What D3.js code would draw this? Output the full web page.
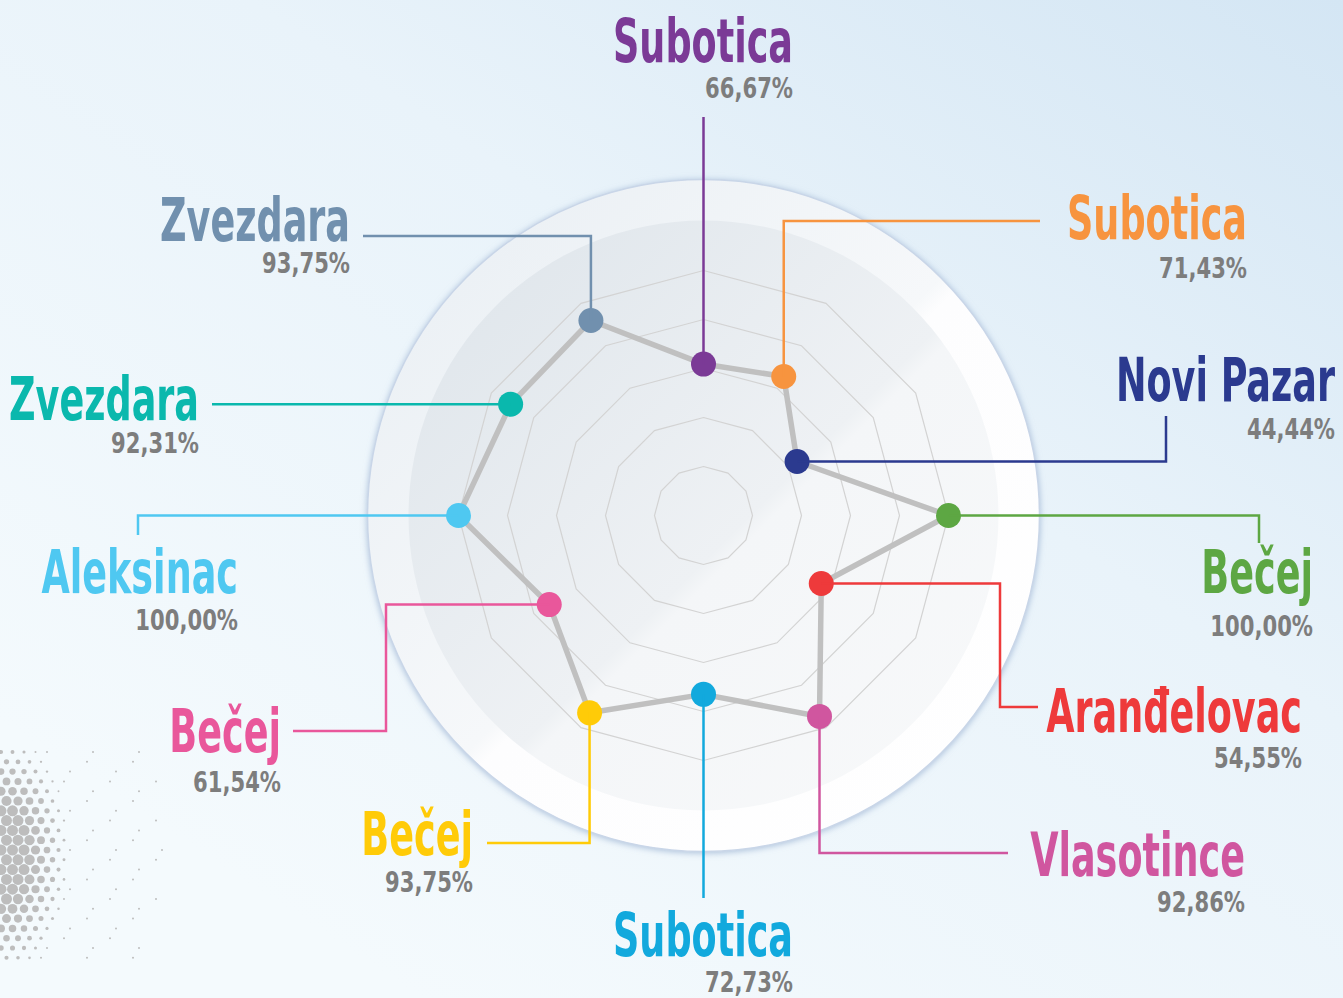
<!DOCTYPE html>
<html>
<head>
<meta charset="utf-8">
<script src="https://cdn.jsdelivr.net/npm/d3@7"></script>
<style>
  html, body { margin: 0; padding: 0; background: #eef6fb; }
  svg { display: block; }
</style>
</head>
<body>
<div id="radar"></div>
<script>
// Data, clockwise from the top axis
const cities = ["Subotica", "Subotica", "Novi Pazar", "Bečej", "Aranđelovac", "Vlasotince",
                "Subotica", "Bečej", "Bečej", "Aleksinac", "Zvezdara", "Zvezdara"];
const shares = [66.67, 71.43, 44.44, 100.00, 54.55, 92.86, 72.73, 93.75, 61.54, 100.00, 92.31, 93.75];
// where the dots actually sit on the radar (% of the outer ring)
const plotted = [61.8, 65.5, 44.1, 100, 55.5, 94.7, 73.0, 93.0, 72.7, 100, 90.9, 91.9];
const cityColors = ["#7b3a96", "#f7943f", "#2b3a8f", "#5da743", "#ee3a3b", "#d0569f",
                    "#12a9dd", "#ffcb08", "#e9579b", "#4fc8f1", "#0ab8ad", "#7190ae"];
const gridLevels = [20, 40, 60, 80, 100];

const drawRadar = () => {

  /*******************************/
  /*    Declare the constants    */
  /*******************************/
  const width = 1343;
  const height = 998;
  const cx = 703.5;
  const cy = 515.5;
  const maxRadius = 245;
  const labelFont = "'Liberation Sans Narrow', 'DejaVu Sans Condensed', 'Liberation Sans', sans-serif";

  // right edge of the label, name baseline, percent baseline, leader path from the dot
  const labelLayout = [
    {x: 793,  y: 62,  py: 98,  leader: [["y", 117]]},
    {x: 1247, y: 239, py: 278, leader: [["y", 221], ["x", 1040]]},
    {x: 1335, y: 401, py: 439, leader: [["x", 1166], ["y", 416]]},
    {x: 1313, y: 593, py: 636, leader: [["x", 1259], ["y", 543]]},
    {x: 1302, y: 732, py: 768, leader: [["x", 1000], ["y", 707], ["x", 1038]]},
    {x: 1245, y: 876, py: 912, leader: [["y", 853], ["x", 1008]]},
    {x: 793,  y: 956, py: 992, leader: [["y", 898]]},
    {x: 473,  y: 855, py: 892, leader: [["y", 843], ["x", 487]]},
    {x: 281,  y: 752, py: 792, leader: [["x", 386], ["y", 731], ["x", 293]]},
    {x: 238,  y: 593, py: 630, leader: [["x", 138], ["y", 535]]},
    {x: 199,  y: 420, py: 453, leader: [["x", 212]]},
    {x: 350,  y: 241, py: 273, leader: [["y", 236], ["x", 363]]}
  ];

  const svg = d3.select("#radar")
    .append("svg")
      .attr("width", width)
      .attr("height", height)
      .attr("viewBox", `0 0 ${width} ${height}`);

  const defs = svg.append("defs");

  // Background gradient
  const bg = defs.append("linearGradient")
    .attr("id", "bg").attr("x1", 1).attr("y1", 0).attr("x2", 0.2).attr("y2", 0.9);
  bg.append("stop").attr("offset", 0).attr("stop-color", "#d4e6f4");
  bg.append("stop").attr("offset", 0.45).attr("stop-color", "#e9f3fa");
  bg.append("stop").attr("offset", 1).attr("stop-color", "#f4fafd");

  const outerFill = defs.append("linearGradient")
    .attr("id", "outerFill").attr("x1", 0).attr("y1", 0).attr("x2", 1).attr("y2", 1);
  outerFill.append("stop").attr("offset", 0).attr("stop-color", "#e8eef3");
  outerFill.append("stop").attr("offset", 0.5).attr("stop-color", "#f6f8fa");
  outerFill.append("stop").attr("offset", 0.52).attr("stop-color", "#fdfdfe");
  outerFill.append("stop").attr("offset", 1).attr("stop-color", "#ffffff");

  const innerFill = defs.append("linearGradient")
    .attr("id", "innerFill").attr("x1", 0).attr("y1", 0).attr("x2", 1).attr("y2", 1);
  innerFill.append("stop").attr("offset", 0).attr("stop-color", "#dde4ea");
  innerFill.append("stop").attr("offset", 0.54).attr("stop-color", "#eef1f4");
  innerFill.append("stop").attr("offset", 0.56).attr("stop-color", "#f4f6f8");
  innerFill.append("stop").attr("offset", 1).attr("stop-color", "#f8f9fa");

  const shadow = defs.append("filter")
    .attr("id", "shadow").attr("x", "-10%").attr("y", "-10%").attr("width", "120%").attr("height", "120%");
  shadow.append("feDropShadow")
    .attr("dx", 0).attr("dy", 1).attr("stdDeviation", 3)
    .attr("flood-color", "#8ea8cc").attr("flood-opacity", 0.7);

  svg.append("rect")
    .attr("width", width).attr("height", height)
    .attr("fill", "url(#bg)");

  // Halftone decoration, bottom left
  const dots = [];
  for (let gx = 0; gx < 16; gx++) {
    for (let gy = 0; gy < 22; gy++) {
      const x = 1 + gx * 11.5 + (gy % 2) * 5.5;
      const y = 752 + gy * 9.8;
      const d = Math.hypot(x * 0.8, (y - 855) / 2.2);
      const r = 5.5 * Math.min(1, 1 - Math.max(0, d - 22) / 40);
      if (r > 0.9) dots.push({x, y, r});
      else if (d < 130 && (gx * 7 + gy * 3) % 4 === 0) dots.push({x, y, r: 1});
    }
  }
  svg.append("g")
    .selectAll("circle")
    .data(dots)
    .join("circle")
      .attr("cx", d => d.x)
      .attr("cy", d => d.y)
      .attr("r", d => d.r)
      .attr("fill", "#bdbdbd");

  /*******************************/
  /*    Circles and the grid     */
  /*******************************/
  svg.append("circle")
    .attr("cx", cx).attr("cy", cy).attr("r", 336)
    .attr("fill", "url(#outerFill)")
    .attr("stroke", "#c9d6e8")
    .attr("stroke-width", 1.5)
    .attr("filter", "url(#shadow)");
  svg.append("circle")
    .attr("cx", cx).attr("cy", cy).attr("r", 295)
    .attr("fill", "url(#innerFill)");

  const radar = svg.append("g")
    .attr("transform", `translate(${cx}, ${cy})`);

  const rScale = d3.scaleLinear()
    .domain([0, 100])
    .range([0, maxRadius]);
  const angle = i => i * 2 * Math.PI / cities.length;
  const px = (i, v) => rScale(v) * Math.sin(angle(i));
  const py = (i, v) => -rScale(v) * Math.cos(angle(i));

  const ring = d3.lineRadial()
    .angle((d, i) => angle(i))
    .radius(d => rScale(d))
    .curve(d3.curveLinearClosed);

  radar.append("g")
    .selectAll("path")
    .data(gridLevels)
    .join("path")
      .attr("d", level => ring(cities.map(() => level)))
      .attr("fill", "none")
      .attr("stroke", "#d3d3d3")
      .attr("stroke-width", 1.2);

  /*******************************/
  /*     Leaders and labels      */
  /*******************************/
  const leaderPath = i => {
    let x = cx + px(i, plotted[i]);
    let y = cy + py(i, plotted[i]);
    const pts = [[x, y]];
    labelLayout[i].leader.forEach(([axis, v]) => {
      if (axis === "x") x = v; else y = v;
      pts.push([x, y]);
    });
    return d3.line()(pts);
  };

  svg.append("g")
    .selectAll("path")
    .data(cities)
    .join("path")
      .attr("d", (d, i) => leaderPath(i))
      .attr("fill", "none")
      .attr("stroke", (d, i) => cityColors[i])
      .attr("stroke-width", 2.5);

  // Series line and dots
  radar.append("path")
    .attr("d", ring(plotted))
    .attr("fill", "none")
    .attr("stroke", "#c0c0c0")
    .attr("stroke-width", 5.5)
    .attr("stroke-linejoin", "round");

  radar.append("g")
    .selectAll("circle")
    .data(plotted)
    .join("circle")
      .attr("cx", (d, i) => px(i, d))
      .attr("cy", (d, i) => py(i, d))
      .attr("r", 12.5)
      .attr("fill", (d, i) => cityColors[i]);

  const formatShare = v => d3.format(".2f")(v).replace(".", ",") + "%";

  // measure the installed font so the condensed look of the original is kept
  const probe = (txt, size) => {
    const t = svg.append("text")
      .text(txt)
      .attr("font-family", labelFont)
      .attr("font-weight", "bold")
      .attr("font-size", size);
    const w = t.node().getComputedTextLength();
    t.remove();
    return w;
  };
  const nameScale = 180 / probe("Subotica", 60);
  const shareScale = 88 / probe("66,67%", 28);

  const labels = svg.append("g")
    .selectAll("g")
    .data(cities)
    .join("g");

  labels.append("text")
    .text(d => d)
    .attr("transform", (d, i) => `translate(${labelLayout[i].x}, ${labelLayout[i].y}) scale(${nameScale}, 1)`)
    .attr("text-anchor", "end")
    .attr("font-family", labelFont)
    .attr("font-weight", "bold")
    .attr("font-size", 60)
    .attr("fill", (d, i) => cityColors[i]);

  labels.append("text")
    .text((d, i) => formatShare(shares[i]))
    .attr("transform", (d, i) => `translate(${labelLayout[i].x}, ${labelLayout[i].py}) scale(${shareScale}, 1)`)
    .attr("text-anchor", "end")
    .attr("font-family", labelFont)
    .attr("font-weight", "bold")
    .attr("font-size", 28)
    .attr("fill", "#7d7d7d");
};

drawRadar();
</script>
</body>
</html>
